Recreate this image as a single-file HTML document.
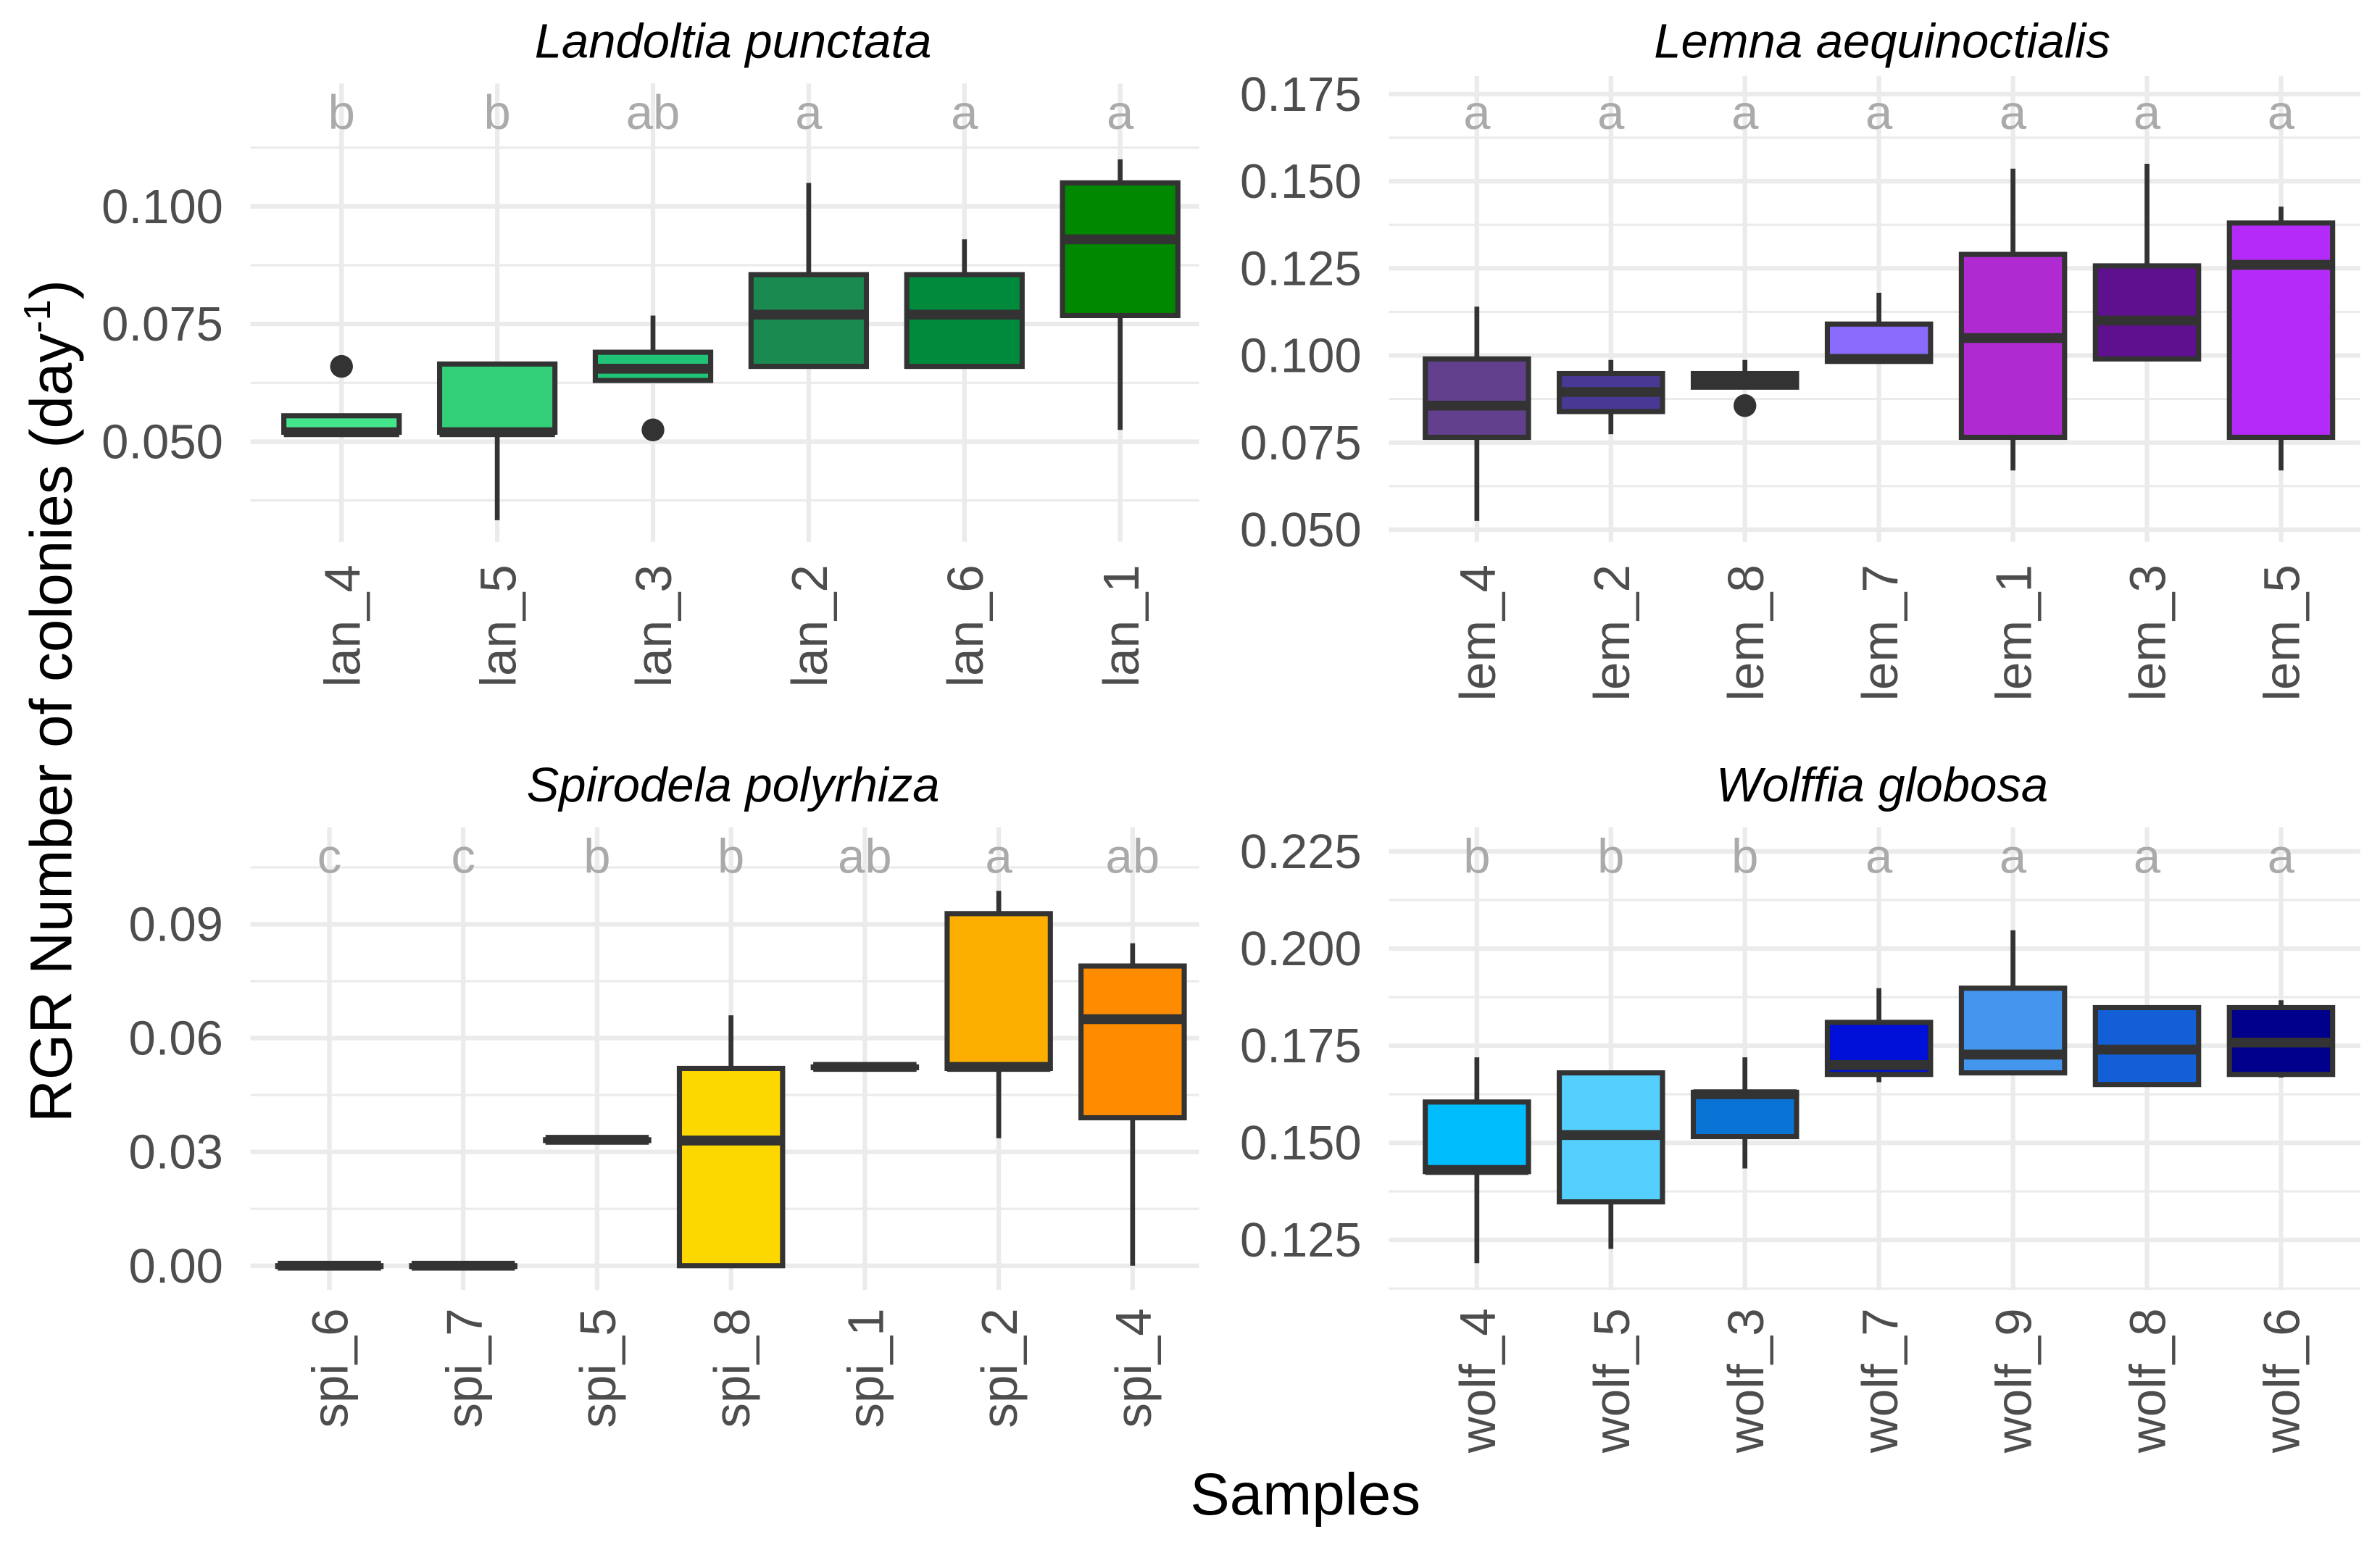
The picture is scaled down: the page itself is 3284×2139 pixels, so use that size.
<!DOCTYPE html>
<html><head><meta charset="utf-8"><style>
html,body{margin:0;padding:0;background:#fff}
svg{display:block}
text{font-family:"Liberation Sans",sans-serif}
</style></head><body>
<svg id="chart" xmlns="http://www.w3.org/2000/svg" width="3284" height="2139" viewBox="0 0 1568 1021.3">
<rect width="1568" height="1022" fill="#fff"/>
<text transform="translate(47,462) rotate(-90)" text-anchor="middle" font-size="39" fill="#000">RGR Number of colonies (day<tspan font-size="25" dy="-14">-1</tspan><tspan dy="14">)</tspan></text>
<text x="860" y="998" text-anchor="middle" font-size="39" fill="#000">Samples</text>
</svg>
<script>
// ---- Landoltia punctata ----
const lanCats = ["lan_4","lan_5","lan_3","lan_2","lan_6","lan_1"];
const lanLetters = ["b","b","ab","a","a","a"];
const lanMin = [0.052,0.0333,0.063,0.066,0.066,0.0525];
const lanQ1 = [0.052,0.052,0.063,0.066,0.066,0.0768];
const lanMed = [0.052,0.052,0.0655,0.077,0.077,0.093];
const lanQ3 = [0.0555,0.0665,0.069,0.0855,0.0855,0.105];
const lanMax = [0.0555,0.0665,0.0768,0.105,0.093,0.110];
const lanOut = [[0.066],[],[0.0525],[],[],[]];
const lanColors = ["#45e58c","#33cf78","#1fc476","#1b8a50","#008a3c","#008800"];
const lanTicks = [0.050,0.075,0.100];
const lanTickLabels = ["0.050","0.075","0.100"];

// ---- Lemna aequinoctialis ----
const lemCats = ["lem_4","lem_2","lem_8","lem_7","lem_1","lem_3","lem_5"];
const lemLetters = ["a","a","a","a","a","a","a"];
const lemMin = [0.0525,0.0774,0.0909,0.0983,0.067,0.099,0.067];
const lemQ1 = [0.0765,0.0839,0.0909,0.0983,0.0765,0.099,0.0765];
const lemMed = [0.0856,0.0895,0.093,0.099,0.105,0.110,0.126];
const lemQ3 = [0.099,0.0948,0.0948,0.109,0.129,0.1257,0.138];
const lemMax = [0.114,0.0987,0.0987,0.118,0.1536,0.155,0.1427];
const lemOut = [[],[],[0.0856],[],[],[],[]];
const lemColors = ["#62408e","#4a3895","#3a2f70","#8a6afa","#b02ad2","#5f108f","#b42af8"];
const lemTicks = [0.050,0.075,0.100,0.125,0.150,0.175];
const lemTickLabels = ["0.050","0.075","0.100","0.125","0.150","0.175"];

// ---- Spirodela polyrhiza ----
const spiCats = ["spi_6","spi_7","spi_5","spi_8","spi_1","spi_2","spi_4"];
const spiLetters = ["c","c","b","b","ab","a","ab"];
const spiMin = [0,0,0.0332,0,0.0524,0.0336,0];
const spiQ1 = [0,0,0.0332,0,0.0524,0.052,0.039];
const spiMed = [0,0,0.0332,0.033,0.0524,0.0524,0.065];
const spiQ3 = [0,0,0.0332,0.052,0.0524,0.0928,0.079];
const spiMax = [0,0,0.0332,0.066,0.0524,0.0988,0.085];
const spiOut = [[],[],[],[],[],[],[]];
const spiColors = ["#333","#333","#333","#fdd700","#333","#fdaf00","#ff8c00"];
const spiTicks = [0.00,0.03,0.06,0.09];
const spiTickLabels = ["0.00","0.03","0.06","0.09"];

// ---- Wolffia globosa ----
const wolCats = ["wolf_4","wolf_5","wolf_3","wolf_7","wolf_9","wolf_8","wolf_6"];
const wolLetters = ["b","b","b","a","a","a","a"];
const wolMin = [0.119,0.1227,0.1434,0.1656,0.168,0.1645,0.1668];
const wolQ1 = [0.1426,0.1348,0.1516,0.1676,0.168,0.165,0.1676];
const wolMed = [0.143,0.152,0.1625,0.170,0.1727,0.174,0.1758];
const wolQ3 = [0.1605,0.168,0.163,0.181,0.1898,0.1848,0.1848];
const wolMax = [0.172,0.168,0.172,0.1898,0.2047,0.185,0.1867];
const wolOut = [[],[],[],[],[],[],[]];
const wolColors = ["#00bdfd","#55cffd","#0a74d6","#0010d8","#4395ee","#1360d6","#00008c"];
const wolTicks = [0.125,0.150,0.175,0.200,0.225];
const wolTickLabels = ["0.125","0.150","0.175","0.200","0.225"];

const NS = "http://www.w3.org/2000/svg";
const svg = document.getElementById("chart");
function mk(tag, attrs, parent){
  const e = document.createElementNS(NS, tag);
  for (const k in attrs) e.setAttribute(k, attrs[k]);
  (parent||svg).appendChild(e);
  return e;
}

function panel(cfg){
  const g = mk("g", {});
  
  
  const y = v => cfg.y0px + (v - cfg.v0) / (cfg.v1 - cfg.v0) * (cfg.y1px - cfg.y0px);
  const step = cfg.ticks[1] - cfg.ticks[0];
  const x = i => cfg.xFirst + i * cfg.xStep;
  for (let k = -1; k < cfg.ticks.length; k++) {
    const v = cfg.ticks[0] + (k + 0.5) * step;
    const py = y(v);
    if (py < cfg.top || py > cfg.bottom) continue;
    const l = mk("line", {x1:cfg.left, x2:cfg.right, y1:py, y2:py, stroke:"#ebebeb", "stroke-width":1.5}, g);
    
    
  }
  cfg.ticks.forEach((v, i) => {
    const py = y(v);
    const l = mk("line", {x1:cfg.left, x2:cfg.right, y1:py, y2:py, stroke:"#ebebeb", "stroke-width":3}, g);
    
    
    const t = mk("text", {x:cfg.left - 18, y:py + 11, "text-anchor":"end", "font-size":32, fill:"#4d4d4d"}, g);
    
    
    t.textContent = cfg.tickLabels[i];
  });
  cfg.cats.forEach((c, i) => {
    const l = mk("line", {x1:x(i), x2:x(i), y1:cfg.top, y2:cfg.bottom, stroke:"#ebebeb", "stroke-width":3}, g);
    
    
  });
  const tt = mk("text", {x:cfg.titleX, y:cfg.titleY, "text-anchor":"middle", "font-size":32, "font-style":"italic", fill:"#000"}, g);
  
  
  tt.textContent = cfg.title;
  cfg.cats.forEach((c, i) => {
    const cx = x(i), hw = cfg.hw;
    const bg = mk("g", {}, g);
    
    
    const lc = "#333";
    if (cfg.max[i] > cfg.q3[i]) {
      const w = mk("line", {x1:cx, x2:cx, y1:y(cfg.q3[i]), y2:y(cfg.max[i]), stroke:lc, "stroke-width":3.2}, bg);
      
      
    }
    if (cfg.min[i] < cfg.q1[i]) {
      const w = mk("line", {x1:cx, x2:cx, y1:y(cfg.q1[i]), y2:y(cfg.min[i]), stroke:lc, "stroke-width":3.2}, bg);
      
      
    }
    const top = y(cfg.q3[i]), bot = y(cfg.q1[i]);
    const r = mk("rect", {x:cx - hw, y:top, width:2 * hw, height:Math.max(bot - top, 0.5), fill:cfg.colors[i], stroke:lc, "stroke-width":3.4}, bg);
    
    
    const m = mk("line", {x1:cx - hw, x2:cx + hw, y1:y(cfg.med[i]), y2:y(cfg.med[i]), stroke:lc, "stroke-width":6.5}, bg);
    
    
    cfg.out[i].forEach(v => {
      const o = mk("circle", {cx:cx, cy:y(v), r:7.5, fill:lc}, bg);
      
      
    });
    const lt = mk("text", {x:cx, y:cfg.letterY, "text-anchor":"middle", "font-size":32, fill:"#aaaaaa"}, g);
    
    
    lt.textContent = cfg.letters[i];
    const xl = mk("text", {transform:"translate(" + (cx + 12) + "," + cfg.labelY + ") rotate(-90)", "text-anchor":"end", "font-size":33, fill:"#4d4d4d"}, g);
    
    
    xl.textContent = c;
  });
}

panel({name:"landoltia", title:"Landoltia punctata", titleX:483, titleY:38, letterY:85, labelY:372,
  left:165, right:790, top:55, bottom:357, xFirst:225, xStep:102.6, hw:38,
  v0:0.100, v1:0.050, y0px:136, y1px:291, ticks:lanTicks, tickLabels:lanTickLabels,
  cats:lanCats, letters:lanLetters, min:lanMin, q1:lanQ1, med:lanMed, q3:lanQ3, max:lanMax, out:lanOut, colors:lanColors});
panel({name:"lemna", title:"Lemna aequinoctialis", titleX:1240, titleY:38, letterY:85, labelY:372,
  left:915, right:1555, top:50, bottom:357, xFirst:973, xStep:88.3, hw:34,
  v0:0.175, v1:0.050, y0px:62, y1px:349, ticks:lemTicks, tickLabels:lemTickLabels,
  cats:lemCats, letters:lemLetters, min:lemMin, q1:lemQ1, med:lemMed, q3:lemQ3, max:lemMax, out:lemOut, colors:lemColors});
panel({name:"spirodela", title:"Spirodela polyrhiza", titleX:483, titleY:528, letterY:575, labelY:862,
  left:165, right:790, top:545, bottom:850, xFirst:217, xStep:88.2, hw:34,
  v0:0.09, v1:0.00, y0px:609, y1px:834, ticks:spiTicks, tickLabels:spiTickLabels,
  cats:spiCats, letters:spiLetters, min:spiMin, q1:spiQ1, med:spiMed, q3:spiQ3, max:spiMax, out:spiOut, colors:spiColors});
panel({name:"wolffia", title:"Wolffia globosa", titleX:1240, titleY:528, letterY:575, labelY:862,
  left:915, right:1555, top:545, bottom:850, xFirst:973, xStep:88.3, hw:34,
  v0:0.225, v1:0.125, y0px:561, y1px:817, ticks:wolTicks, tickLabels:wolTickLabels,
  cats:wolCats, letters:wolLetters, min:wolMin, q1:wolQ1, med:wolMed, q3:wolQ3, max:wolMax, out:wolOut, colors:wolColors});
</script>
</body></html>
